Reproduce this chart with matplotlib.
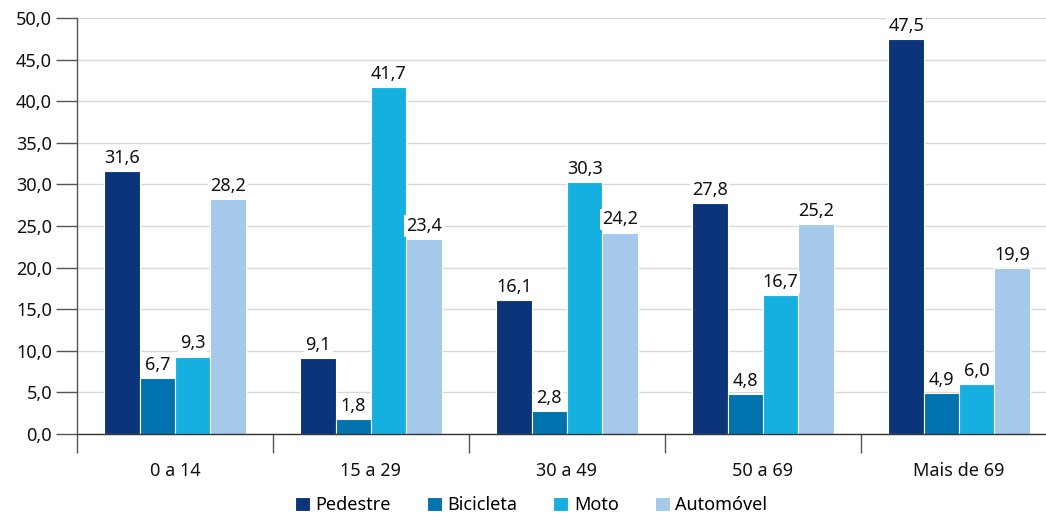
import matplotlib
matplotlib.use("Agg")
import matplotlib.pyplot as plt
import numpy as np

categories = ["0 a 14", "15 a 29", "30 a 49", "50 a 69", "Mais de 69"]
series_names = ["Pedestre", "Bicicleta", "Moto", "Automóvel"]
pedestre = [31.6, 9.1, 16.1, 27.8, 47.5]
bicicleta = [6.7, 1.8, 2.8, 4.8, 4.9]
moto = [9.3, 41.7, 30.3, 16.7, 6.0]
automovel = [28.2, 23.4, 24.2, 25.2, 19.9]
colors = ["#0b347b", "#0072ae", "#15b0e0", "#a4c9eb"]
yticks = [0, 5, 10, 15, 20, 25, 30, 35, 40, 45, 50]

plt.rcParams['font.family'] = ['Noto Sans', 'DejaVu Sans']
FS = 13
TC = "#111111"

fig = plt.figure(figsize=(10.46, 5.14), dpi=100)
ax = fig.add_axes([77/1046, 80/514, 980/1046, 416/514])

x = np.arange(len(categories))
bw = 0.18
data = [pedestre, bicicleta, moto, automovel]
for i, (vals, c, name) in enumerate(zip(data, colors, series_names)):
    pos = x + (i - 1.5) * bw
    ax.bar(pos, vals, width=bw, color=c, edgecolor="white", linewidth=0.8, label=name, zorder=2)
    for p, v in zip(pos, vals):
        ax.annotate(f"{v:.1f}".replace(".", ","), (p, v), xytext=(0, 3), textcoords="offset points",
                    ha="center", va="bottom", fontsize=FS, color=TC,
                    bbox=dict(boxstyle="square,pad=0.1", fc="white", ec="none"), zorder=3)

ax.set_ylim(0, 50)
ax.set_xlim(-0.5, 4.5)
ax.set_yticks(yticks)
ax.set_yticklabels([f"{v:.1f}".replace(".", ",") for v in yticks], fontsize=FS, color=TC)
ax.yaxis.grid(True, color="#d9d9d9", linewidth=1, zorder=0)
ax.set_axisbelow(True)
ax.tick_params(axis="y", length=15, width=1, color="#555555", pad=3)

ax.set_xticks(np.arange(-0.5, 5, 1))
ax.set_xticklabels([])
ax.tick_params(axis="x", which="major", length=14, width=1, color="#555555")
ax.set_xticks(x, minor=True)
ax.set_xticklabels(categories, minor=True, fontsize=FS, color=TC)
ax.tick_params(axis="x", which="minor", length=0, pad=20)

for s in ["top", "right"]:
    ax.spines[s].set_visible(False)
ax.spines["left"].set_color("#555555")
ax.spines["bottom"].set_color("#333333")
ax.spines["left"].set_linewidth(1)
ax.spines["bottom"].set_linewidth(1)

leg = fig.legend(loc="center", bbox_to_anchor=(531/1046, 1 - 505/514), ncol=4, frameon=False,
                 fontsize=FS, handlelength=0.83, handleheight=0.83, handletextpad=0.3,
                 columnspacing=2.0, borderpad=0, borderaxespad=0)

fig.savefig("out.png", dpi=100)
